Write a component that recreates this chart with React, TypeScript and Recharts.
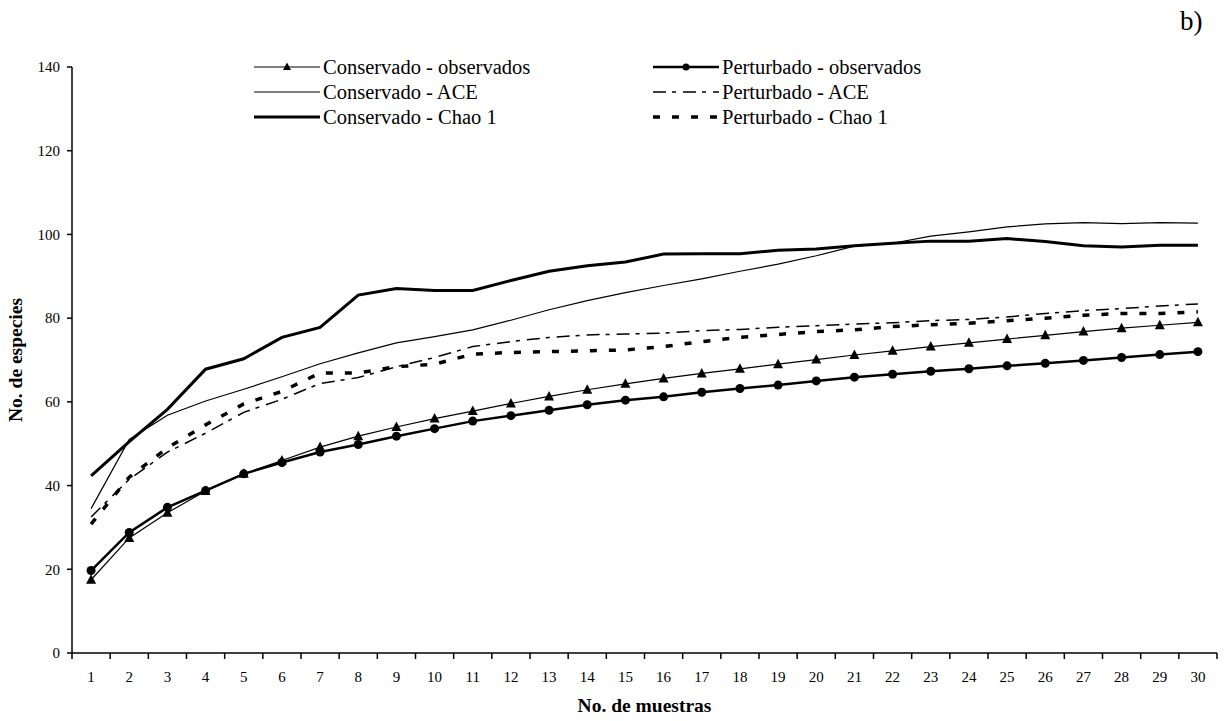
import React from 'react';
import { LineChart, Line, XAxis, YAxis } from 'recharts';

const muestras = [1, 2, 3, 4, 5, 6, 7, 8, 9, 10, 11, 12, 13, 14, 15, 16, 17, 18, 19, 20, 21, 22, 23, 24, 25, 26, 27, 28, 29, 30];

const conservadoObs = [17.5, 27.5, 33.5, 38.7, 42.8, 46.0, 49.2, 51.8, 54.0, 56.0, 57.8, 59.6, 61.3, 62.9, 64.3, 65.6, 66.8, 67.9, 69.0, 70.1, 71.2, 72.2, 73.2, 74.1, 75.0, 75.9, 76.8, 77.6, 78.3, 79.0];
const perturbadoObs = [19.7, 28.8, 34.8, 38.8, 42.8, 45.5, 48.0, 49.8, 51.8, 53.6, 55.4, 56.7, 58.0, 59.3, 60.4, 61.2, 62.3, 63.2, 64.0, 65.0, 65.9, 66.6, 67.3, 67.9, 68.6, 69.2, 69.9, 70.6, 71.3, 72.0];
const conservadoAce = [34.5, 51.0, 56.8, 60.2, 63.0, 66.0, 69.1, 71.7, 74.1, 75.6, 77.2, 79.5, 82.0, 84.2, 86.1, 87.8, 89.4, 91.2, 92.9, 94.9, 97.2, 97.9, 99.6, 100.6, 101.8, 102.5, 102.8, 102.6, 102.8, 102.7];
const conservadoChao = [42.3, 50.5, 58.2, 67.8, 70.3, 75.4, 77.8, 85.5, 87.1, 86.6, 86.6, 89.0, 91.2, 92.5, 93.4, 95.3, 95.4, 95.4, 96.2, 96.5, 97.3, 97.9, 98.4, 98.4, 99.0, 98.3, 97.3, 97.0, 97.4, 97.4];
const perturbadoAce = [32.5, 41.5, 48.0, 52.5, 57.5, 60.6, 64.4, 65.8, 68.4, 70.6, 73.2, 74.4, 75.4, 76.0, 76.2, 76.4, 77.0, 77.3, 77.8, 78.2, 78.6, 78.9, 79.4, 79.7, 80.3, 81.1, 81.8, 82.3, 82.9, 83.4];
const perturbadoChao = [30.8, 42.0, 49.0, 54.5, 59.5, 62.5, 66.9, 66.9, 68.4, 69.0, 71.4, 71.8, 72.0, 72.2, 72.4, 73.2, 74.4, 75.4, 76.1, 76.8, 77.2, 78.0, 78.4, 78.8, 79.4, 80.0, 80.7, 81.1, 81.1, 81.5];

const yTicks = [0, 20, 40, 60, 80, 100, 120, 140];

const data = muestras.map((m, i) => ({
  muestra: m,
  consObs: conservadoObs[i],
  pertObs: perturbadoObs[i],
  consAce: conservadoAce[i],
  consChao: conservadoChao[i],
  pertAce: perturbadoAce[i],
  pertChao: perturbadoChao[i],
}));

const W = 1225;
const H = 721;
const PLOT_LEFT = 72;
const PLOT_RIGHT = 8;
const HALF_BAND = (W - PLOT_LEFT - PLOT_RIGHT) / muestras.length / 2;
const FONT = '"Liberation Serif", "Times New Roman", serif';
const DASH_DOT = '13 6 4 7';
const DASHED = '7 12';

const Triangle = (props: any) => {
  const { cx, cy } = props;
  if (cx == null || cy == null) return null;
  return <polygon points={`${cx},${cy - 5.5} ${cx - 5},${cy + 4} ${cx + 5},${cy + 4}`} fill="#000" />;
};

const Circle = (props: any) => {
  const { cx, cy } = props;
  if (cx == null || cy == null) return null;
  return <circle cx={cx} cy={cy} r={4.5} fill="#000" />;
};

const XTick = (props: any) => {
  const { x, y, payload, index } = props;
  const last = index === muestras.length - 1;
  return (
    <g>
      <line x1={x - HALF_BAND} x2={x - HALF_BAND} y1={y} y2={y + 6} stroke="#000" strokeWidth={1.5} />
      {last && <line x1={x + HALF_BAND} x2={x + HALF_BAND} y1={y} y2={y + 6} stroke="#000" strokeWidth={1.5} />}
      <text x={x} y={y + 29} textAnchor="middle" fontSize={15} fontFamily={FONT} fill="#000">
        {payload.value}
      </text>
    </g>
  );
};

const legendItems = [
  { label: 'Conservado - observados', col: 0, row: 0, width: 1.2, dash: undefined, marker: 'tri' },
  { label: 'Conservado - ACE', col: 0, row: 1, width: 1.2, dash: undefined, marker: null },
  { label: 'Conservado - Chao 1', col: 0, row: 2, width: 3, dash: undefined, marker: null },
  { label: 'Perturbado - observados', col: 1, row: 0, width: 2.5, dash: undefined, marker: 'circle' },
  { label: 'Perturbado - ACE', col: 1, row: 1, width: 1.5, dash: DASH_DOT, marker: null },
  { label: 'Perturbado - Chao 1', col: 1, row: 2, width: 3.5, dash: DASHED, marker: null },
];

const ChartLegend = () => (
  <svg width={W} height={140} style={{ position: 'absolute', left: 0, top: 0, pointerEvents: 'none' }}>
    {legendItems.map((it) => {
      const x0 = it.col === 0 ? 254 : 653;
      const y0 = 67 + it.row * 25;
      return (
        <g key={it.label}>
          <line x1={x0} x2={x0 + 66} y1={y0} y2={y0} stroke="#000" strokeWidth={it.width} strokeDasharray={it.dash} />
          {it.marker === 'tri' && <polygon points={`${x0 + 33},${y0 - 4.5} ${x0 + 29},${y0 + 3} ${x0 + 37},${y0 + 3}`} fill="#000" />}
          {it.marker === 'circle' && <circle cx={x0 + 33} cy={y0} r={3.5} fill="#000" />}
          <text x={x0 + 69} y={y0 + 7} fontSize={20.5} fontFamily={FONT} fill="#000">
            {it.label}
          </text>
        </g>
      );
    })}
    <text x={1180} y={30} fontSize={27} fontFamily={FONT} fill="#000">b)</text>
  </svg>
);

export default function App() {
  return (
    <div style={{ position: 'absolute', left: 0, top: 0, width: W, height: H, background: '#fff' }}>
      <LineChart width={W} height={H} data={data} margin={{ top: 67, right: PLOT_RIGHT, bottom: 18, left: 12 }}>
        <XAxis
          dataKey="muestra"
          type="number"
          domain={[0.5, 30.5]}
          ticks={muestras}
          interval={0}
          height={50}
          tickLine={false}
          tickSize={0}
          tickMargin={0}
          axisLine={{ stroke: '#000', strokeWidth: 1.5 }}
          tick={<XTick />}
          label={{ value: 'No. de muestras', position: 'insideBottom', offset: -9, fontSize: 19.5, fontWeight: 'bold', fontFamily: FONT, fill: '#000' }}
        />
        <YAxis
          domain={[0, 140]}
          ticks={yTicks}
          width={60}
          tickSize={5}
          tickMargin={7}
          tickLine={{ stroke: '#000', strokeWidth: 1.5 }}
          axisLine={{ stroke: '#000', strokeWidth: 1.5 }}
          tick={{ fontSize: 15, fontFamily: FONT, fill: '#000' }}
          label={{ value: 'No. de especies', angle: -90, position: 'insideLeft', offset: 3, textAnchor: 'middle', fontSize: 19.5, fontWeight: 'bold', fontFamily: FONT, fill: '#000' }}
        />
        <Line dataKey="consAce" stroke="#000" strokeWidth={1.2} dot={false} isAnimationActive={false} />
        <Line dataKey="consChao" stroke="#000" strokeWidth={3} dot={false} isAnimationActive={false} />
        <Line dataKey="pertAce" stroke="#000" strokeWidth={1.5} strokeDasharray={DASH_DOT} dot={false} isAnimationActive={false} />
        <Line dataKey="pertChao" stroke="#000" strokeWidth={3.5} strokeDasharray={DASHED} dot={false} isAnimationActive={false} />
        <Line dataKey="consObs" stroke="#000" strokeWidth={1.2} dot={<Triangle />} isAnimationActive={false} />
        <Line dataKey="pertObs" stroke="#000" strokeWidth={2.5} dot={<Circle />} isAnimationActive={false} />
      </LineChart>
      <ChartLegend />
    </div>
  );
}
